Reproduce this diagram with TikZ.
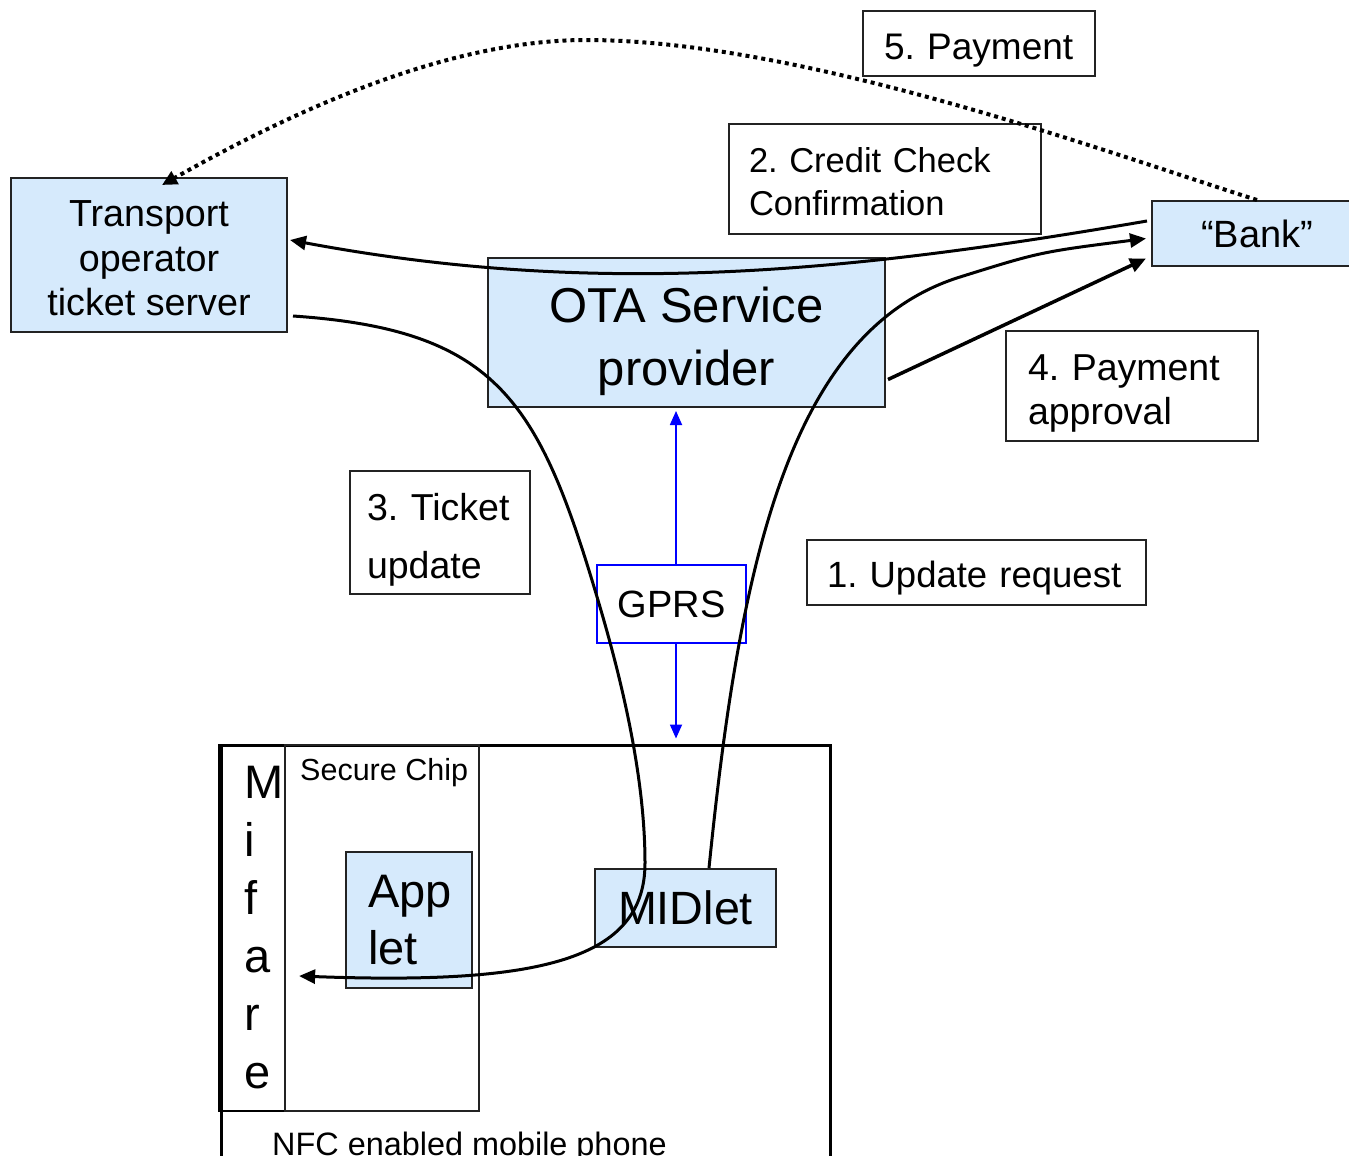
\documentclass[tikz,border=0pt]{standalone}
\usepackage{fontspec}
\setmainfont{Liberation Sans}
\usetikzlibrary{arrows.meta,calc}
\definecolor{boxblue}{RGB}{214,234,252}
\definecolor{edgegray}{RGB}{35,35,35}
\newcommand{\fsz}[2]{\fontsize{#1}{#2}\selectfont}
\newcommand{\myht}[1]{\rule{0pt}{#1}}
\frenchspacing
\begin{document}
\begin{tikzpicture}[x=1pt,y=-1pt,
  bluebox/.style={draw=edgegray, line width=2pt, fill=boxblue, inner sep=0pt, align=center},
  labelbox/.style={draw=edgegray, line width=2pt, inner ysep=0pt, align=left},
  conn/.style={line width=3pt, -{Triangle[length=16pt,width=14pt]}},
  gprsarrow/.style={blue, line width=1.8pt, -{Triangle[length=14pt,width=12pt]}},
  paydots/.style={line width=4pt, dash pattern=on 4pt off 4pt, -{Triangle[length=15pt,width=14pt]}}
]
\useasboundingbox (0,0) rectangle (1349,1156);
\clip (0,0) rectangle (1349,1156);

% main boxes
\node[bluebox, minimum width=276pt, minimum height=154pt, font=\fsz{37.7}{44.5}] (transport) at (149,255) {\myht{33pt}Transport\\operator\\ticket server};
\node[bluebox, minimum width=397pt, minimum height=149pt, font=\fsz{49}{63}] (ota) at (686.5,332.5) {\myht{54pt}OTA Service\\provider};
\node[bluebox, minimum width=210pt, minimum height=65pt, font=\fsz{38}{44}] (bank) at (1257,233.5) {“Bank”};

% label boxes
\node[labelbox, minimum height=110pt, text width=272pt, inner xsep=20pt, font=\fsz{34.5}{43}] (credit) at (885,179) {\myht{31pt}2. Credit Check\\Confirmation};
\node[labelbox, minimum height=65pt, text width=190pt, inner xsep=21pt, font=\fsz{37}{44}] (pay) at (979,43.5) {\myht{39pt}5. Payment};
\node[labelbox, minimum height=110pt, text width=208pt, inner xsep=22pt, font=\fsz{37.5}{44}] (approval) at (1132,386) {\myht{41pt}4. Payment\\approval};
\node[labelbox, minimum height=123pt, text width=146pt, inner xsep=17pt, font=\fsz{37.5}{58}] (ticket) at (440,532.5) {\myht{41pt}3. Ticket\\update};
\node[labelbox, minimum height=65pt, text width=299pt, inner xsep=20pt, font=\fsz{36.5}{44}] (request) at (976.5,572.5) {\myht{37pt}1. Update request};
\node[draw=blue, line width=1.8pt, fill=white, minimum width=149pt, minimum height=78pt, inner sep=0pt, font=\fsz{38}{44}] (gprs) at (671.5,604) {GPRS};

% phone
\node[draw=black, line width=3pt, minimum width=609pt, minimum height=430pt, inner sep=0pt] (phone) at (525.5,960) {};
\node[anchor=base west, inner sep=0pt, font=\fsz{32.4}{38}] (nfc) at (272,1155) {NFC enabled mobile phone};
\node[draw=black, line width=2pt, minimum width=64pt, minimum height=366pt, inner xsep=23pt, inner ysep=0pt, text width=18pt, align=left, font=\fsz{47}{58}] (mifare) at (253,928) {M\\i\\f\\a\\r\\e};
\draw[line width=3.5pt] (mifare.north west) -- (mifare.south west);
\node[draw=edgegray, line width=1.8pt, minimum width=194pt, minimum height=366pt, inner sep=0pt] (chip) at (382,928) {};
\node[anchor=base west, inner sep=0pt, font=\fsz{30.5}{36}] (chiplabel) at (300,780) {Secure Chip};
\node[bluebox, minimum height=136pt, text width=82pt, inner xsep=22pt, inner ysep=0pt, align=left, font=\fsz{47}{57}] (applet) at (409,920) {App\\let};
\node[bluebox, minimum width=181pt, minimum height=78pt, font=\fsz{46.7}{55}] (midlet) at (685.5,908) {MIDlet};

% GPRS arrows
\draw[gprsarrow] ($(gprs.north)+(4.5,0)$) coordinate (ga) -- ($(ga |- ota.south)+(0,3)$);
\draw[gprsarrow] ($(gprs.south)+(4.5,0)$) coordinate (gb) -- ($(gb |- phone.north)+(0,-5)$);

% 2. credit check confirmation: bank -> transport
\draw[conn] ($(bank.west)+(-4,-12.5)$) .. controls (850,272) and (600,298) .. ($(transport.east)+(2,-15)$);
% 1. update request: midlet -> bank
\draw[conn] ($(midlet.north)+(23.5,0)$) .. controls (740,560) and (790,330) .. (960,277)
   .. controls (1040,252) .. ($(bank.west)+(-5,5)$);
% 4. payment approval: ota -> bank
\draw[conn, line width=3.5pt] ($(ota.east)+(2,47)$) -- ($(bank.west)+(-5,25)$);
% 3. ticket update: transport -> applet (mifare)
\draw[conn] ($(transport.east)+(5,61)$) .. controls (500,330) and (540,403) .. (600,607)
   .. controls (625,692) and (645,783) .. (645,863)
   .. controls (645,960) and (540,985) .. ($(chip.west)+(15,48)$);
% 5. payment: bank -> transport (dotted)
\draw[paydots] (bank.north) .. controls (1100,150) and (800,40) .. (586,40)
   .. controls (430,40) and (260,130) .. ($(transport.north)+(13,8)$);
\end{tikzpicture}
\end{document}
